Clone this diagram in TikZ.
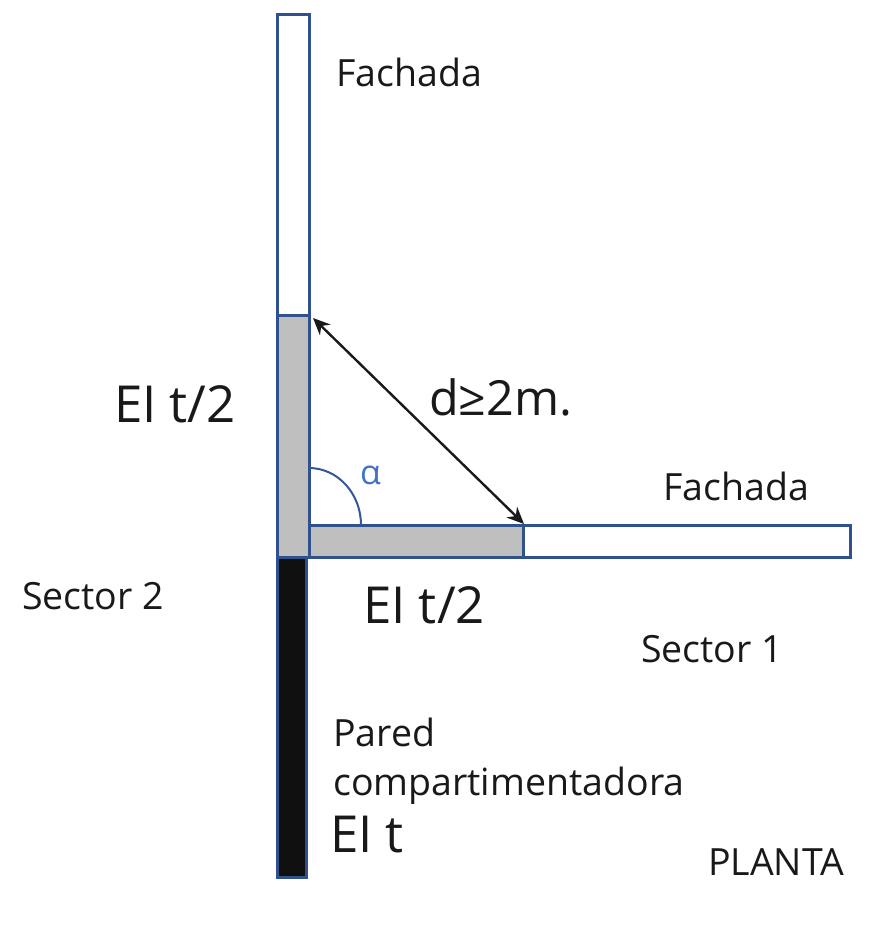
\documentclass[tikz,border=0pt]{standalone}
\usepackage{fontspec}
\setmainfont{Open Sans}
\usetikzlibrary{arrows.meta}
\definecolor{edge}{RGB}{47,82,143}
\definecolor{fillg}{RGB}{191,191,191}
\definecolor{fillk}{RGB}{15,15,15}
\definecolor{alphac}{RGB}{68,114,196}
\begin{document}
\begin{tikzpicture}[x=1pt,y=-1pt,
  wall/.style={draw=edge,line width=3pt},
  lab/.style={inner sep=0pt,text=black!90,font=\fontsize{37.5}{44}\selectfont},
  big/.style={inner sep=0pt,text=black!90,font=\fontsize{51}{60}\selectfont}]
\useasboundingbox (0,0) rectangle (893,926);
\path[wall,fill=white] (277,14) rectangle (309,315);
\path[wall,fill=fillg] (277,315) rectangle (309,557);
\path[wall,fill=fillk] (277,557) rectangle (306,877);
\path[wall,fill=fillg] (309,525) rectangle (523,557);
\path[wall,fill=white] (523,525) rectangle (850,557);
\coordinate (p) at (313,318);
\coordinate (q) at (524,524);
\draw[line width=2.4pt,{Stealth[length=17pt,width=15pt]}-{Stealth[length=17pt,width=15pt]},black!90] (p) -- (q);
\draw[edge!80!alphac,line width=2pt] (309,468) arc[start angle=-90,end angle=0,x radius=52,y radius=57];
\node[lab,anchor=west] (f1) at (336,72) {Fachada};
\node[lab,anchor=west] (f2) at (663,486) {Fachada};
\node[big,anchor=west] (e1) at (114,404) {EI t/2};
\node[big,anchor=west,font=\fontsize{48.5}{58}\selectfont] (d) at (429,397) {d≥2m.};
\node[lab,anchor=base west,text=alphac,font=\fontsize{34}{40}\selectfont] (a) at (360,484) {α};
\node[big,anchor=west] (e2) at (363,605) {EI t/2};
\node[lab,anchor=west] (s2) at (22,596) {Sector 2};
\node[lab,anchor=west] (s1) at (641,649) {Sector 1};
\node[lab,anchor=west] (p1) at (333,732) {Pared};
\node[lab,anchor=west] (p2) at (333,786) {compartimentadora};
\node[big,anchor=west] (e3) at (330,835) {EI t};
\node[lab,anchor=west] (pl) at (708,862) {PLANTA};
\end{tikzpicture}
\end{document}
